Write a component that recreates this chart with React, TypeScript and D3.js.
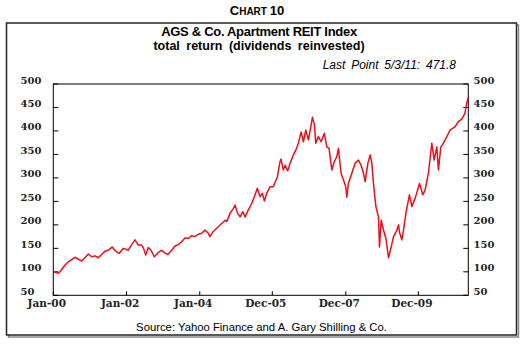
import React from "react";
import * as d3 from "d3";

const title = "AGS & Co. Apartment REIT Index";
const subtitle = "total return (dividends reinvested)";
const lastPointLabel = "Last Point 5/3/11: 471.8";
const sourceLabel = "Source: Yahoo Finance and A. Gary Shilling & Co.";

const yTicks = [50, 100, 150, 200, 250, 300, 350, 400, 450, 500];
const xTickDates = ["2000-01-01", "2002-01-01", "2004-01-01", "2005-12-25", "2007-12-28", "2009-12-21"];
const xTickLabels = ["Jan-00", "Jan-02", "Jan-04", "Dec-05", "Dec-07", "Dec-09"];

const dates = [
  "2000-01-03", "2000-02-20", "2000-03-08", "2000-04-26", "2000-05-29", "2000-08-04", "2000-09-06", "2000-10-10",
  "2000-11-12", "2000-12-15", "2001-01-18", "2001-02-21", "2001-03-25", "2001-04-27", "2001-05-31", "2001-07-02",
  "2001-08-11", "2001-09-15", "2001-10-18", "2001-11-30", "2002-01-18", "2002-02-21", "2002-03-26", "2002-04-28",
  "2002-06-01", "2002-06-17", "2002-07-11", "2002-08-06", "2002-09-02", "2002-10-05", "2002-11-13", "2002-12-17",
  "2003-01-12", "2003-02-15", "2003-03-27", "2003-04-29", "2003-06-01", "2003-07-05", "2003-08-07", "2003-09-09",
  "2003-10-13", "2003-11-15", "2003-12-18", "2004-01-21", "2004-02-22", "2004-03-26", "2004-04-12", "2004-05-15",
  "2004-07-04", "2004-08-07", "2004-09-10", "2004-09-27", "2004-10-30", "2004-12-02", "2004-12-19", "2005-01-11",
  "2005-02-07", "2005-03-05", "2005-03-28", "2005-04-30", "2005-06-03", "2005-07-06", "2005-07-29", "2005-08-25",
  "2005-09-16", "2005-10-06", "2005-10-30", "2005-12-02", "2006-01-04", "2006-02-13", "2006-03-12", "2006-03-22",
  "2006-04-14", "2006-05-01", "2006-05-28", "2006-06-20", "2006-07-23", "2006-08-16", "2006-09-11", "2006-10-08",
  "2006-10-31", "2006-11-24", "2006-12-20", "2007-01-16", "2007-01-29", "2007-02-18", "2007-03-03", "2007-03-29",
  "2007-04-25", "2007-05-28", "2007-06-21", "2007-07-14", "2007-08-10", "2007-09-05", "2007-09-29", "2007-10-15",
  "2007-11-11", "2007-12-04", "2007-12-28", "2008-01-07", "2008-01-23", "2008-02-26", "2008-03-30", "2008-05-02",
  "2008-05-29", "2008-06-21", "2008-07-08", "2008-08-04", "2008-08-27", "2008-09-13", "2008-09-29", "2008-10-23",
  "2008-11-18", "2008-11-28", "2008-12-15", "2009-01-07", "2009-01-31", "2009-02-26", "2009-03-25", "2009-04-17",
  "2009-05-21", "2009-06-06", "2009-06-15", "2009-07-09", "2009-07-25", "2009-08-21", "2009-09-23", "2009-10-17",
  "2009-11-19", "2010-01-01", "2010-02-03", "2010-02-26", "2010-03-31", "2010-05-04", "2010-05-27", "2010-06-23",
  "2010-07-09", "2010-08-02", "2010-08-28", "2010-10-01", "2010-11-02", "2010-12-22", "2011-01-24", "2011-02-27",
  "2011-03-31", "2011-04-17", "2011-05-03",
];

const values = [
  100, 97, 100, 114, 121, 131, 127, 123,
  130, 138, 132, 134, 130, 137, 144, 146,
  153, 144, 139, 150, 146, 158, 168, 157,
  157, 151, 136, 152, 146, 132, 141, 146,
  141, 137, 146, 155, 158, 164, 172, 171,
  177, 175, 180, 182, 189, 182, 175, 186,
  196, 203, 210, 207, 225, 235, 242, 225,
  217, 228, 217, 232, 246, 264, 278, 260,
  267, 251, 267, 281, 281, 302, 335, 340,
  317, 327, 315, 331, 349, 359, 374, 398,
  377, 402, 381, 413, 429, 413, 374, 388,
  377, 395, 366, 363, 317, 335, 345, 363,
  310, 296, 281, 259, 288, 310, 331, 338,
  327, 310, 292, 331, 349, 331, 288, 239,
  217, 153, 210, 189, 171, 130, 153, 175,
  189, 200, 185, 168, 189, 228, 264, 239,
  257, 288, 264, 274, 310, 374, 338, 366,
  317, 366, 374, 388, 402, 409, 420, 425,
  438, 459, 471.8,
];

const W = 528;
const H = 346;
const PL = 53.3, PR = 468.3, PT = 84, PB = 295.3;

export default function App() {
  const parse = d3.timeParse("%Y-%m-%d");
  const x = d3.scaleTime()
    .domain([parse("2000-01-01") as Date, parse("2011-05-03") as Date])
    .range([PL, PR]);
  const y = d3.scaleLinear().domain([50, 500]).range([PB, PT]);
  const pts: [Date, number][] = dates.map((d, i) => [parse(d) as Date, values[i]]);
  const line = d3.line<[Date, number]>().x((d) => x(d[0])).y((d) => y(d[1]));
  const sans = "'Liberation Sans', Arial, sans-serif";
  const serif = "'DejaVu Serif', serif";

  return (
    <svg width={W} height={H} style={{ position: "absolute", left: 0, top: 0, background: "#fff" }}>
      <rect x={0} y={0} width={W} height={H} fill="#fff" />
      <text x={257} y={15} textAnchor="middle" fontFamily={sans} fontWeight="bold" fill="#000">
        <tspan fontSize={13}>C</tspan>
        <tspan fontSize={10}>HART </tspan>
        <tspan fontSize={13}>10</tspan>
      </text>
      <rect x={8.5} y={25} width={510} height={312} fill="none" stroke="#888" strokeWidth={1.5} />
      <rect x={6.5} y={23} width={510} height={312} fill="#fff" stroke="#222" strokeWidth={1.5} />
      <text x={259} y={36} textAnchor="middle" fontFamily={sans} fontWeight="bold" fontSize={13} letterSpacing={-0.3} fill="#000">{title}</text>
      <text x={259} y={50} textAnchor="middle" fontFamily={sans} fontWeight="bold" fontSize={12.5} wordSpacing={3} fill="#000">{subtitle}</text>
      <text x={456} y={68.5} textAnchor="end" fontFamily={sans} fontStyle="italic" fontSize={12} wordSpacing={2.5} fill="#000">{lastPointLabel}</text>

      <rect x={PL} y={PT} width={PR - PL} height={PB - PT} fill="none" stroke="#000" strokeWidth={1} />
      {yTicks.map((t) => (
        <g key={"y" + t}>
          <line x1={PL} x2={PL + 5} y1={y(t)} y2={y(t)} stroke="#000" strokeWidth={1} />
          <line x1={PR - 5} x2={PR} y1={y(t)} y2={y(t)} stroke="#000" strokeWidth={1} />
          <text x={20.5} y={y(t) - 0.5} fontFamily={serif} fontWeight="bold" fontSize={10} fill="#222">{t}</text>
          <text x={473.5} y={y(t) - 0.5} fontFamily={serif} fontWeight="bold" fontSize={10} fill="#222">{t}</text>
        </g>
      ))}
      {xTickDates.map((d, i) => {
        const xx = x(parse(d) as Date);
        return (
          <g key={"x" + d}>
            <line x1={xx} x2={xx} y1={PB} y2={PB - 4} stroke="#000" strokeWidth={1} />
            <text x={xx - 6.5} y={306.5} textAnchor="middle" fontFamily={serif} fontWeight="bold" fontSize={10.5} fill="#222">{xTickLabels[i]}</text>
          </g>
        );
      })}
      <path d={line(pts) || ""} fill="none" stroke="#e8101c" strokeWidth={1.5} strokeLinejoin="round" />
      <text x={261.5} y={331} textAnchor="middle" fontFamily={sans} fontSize={11.3} fill="#000">{sourceLabel}</text>
    </svg>
  );
}
